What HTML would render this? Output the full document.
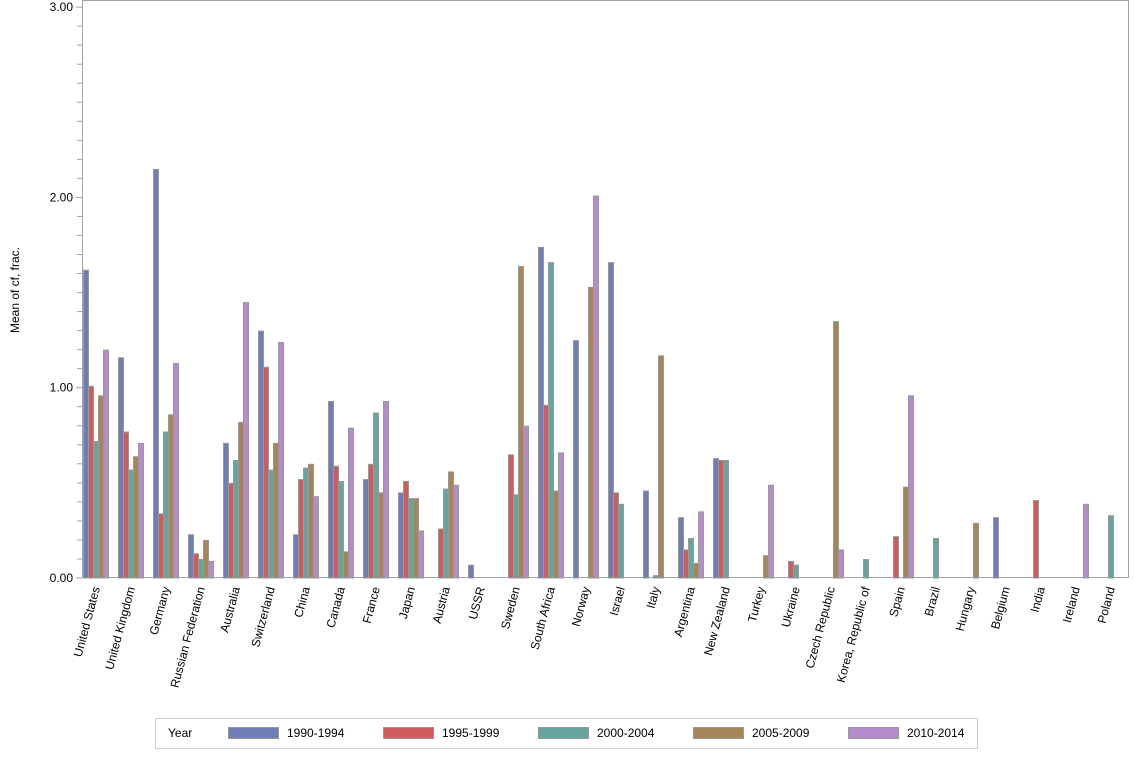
<!DOCTYPE html>
<html><head><meta charset="utf-8"><style>
body{margin:0;background:#fff;width:1134px;height:756px;overflow:hidden}
svg text{font-family:"Liberation Sans",Arial,sans-serif;fill:#000}
</style></head><body>
<svg id="s" width="1134" height="756" xmlns="http://www.w3.org/2000/svg">
<rect x="82.5" y="0.5" width="1046" height="577" fill="none" stroke="#a0a4a8"/>
<text x="0" y="0" font-size="12" transform="translate(19,290) rotate(-90)" text-anchor="middle">Mean of cf, frac.</text>
<rect x="155.5" y="718.5" width="822" height="30" fill="#fff" stroke="#ccc"/>
<text x="168" y="737" font-size="12">Year</text>
</svg>
<script>
var s=document.getElementById('s'),NS='http://www.w3.org/2000/svg';
function el(t,a,txt){var e=document.createElementNS(NS,t);for(var k in a)e.setAttribute(k,a[k]);if(txt!=null)e.textContent=txt;s.appendChild(e);return e;}
var y0=578,sc=190.3;
for(var i=0;i<=30;i++){var y=y0-i*sc/10;el('line',{x1:i%10?77:76,x2:82,y1:y,y2:y,stroke:'#a0a4a8'});}
['0.00','1.00','2.00','3.00'].forEach(function(t,i){el('text',{x:73,y:y0-i*sc+4,'font-size':12,'text-anchor':'end'},t);});
var C=['#6f7db6','#d05b5b','#66a59d','#a68559','#b58ccb'];
var D=[['United States',[1.62,1.01,0.72,0.96,1.20]],['United Kingdom',[1.16,0.77,0.57,0.64,0.71]],['Germany',[2.15,0.34,0.77,0.86,1.13]],['Russian Federation',[0.23,0.13,0.10,0.20,0.09]],['Australia',[0.71,0.50,0.62,0.82,1.45]],['Switzerland',[1.30,1.11,0.57,0.71,1.24]],['China',[0.23,0.52,0.58,0.60,0.43]],['Canada',[0.93,0.59,0.51,0.14,0.79]],['France',[0.52,0.60,0.87,0.45,0.93]],['Japan',[0.45,0.51,0.42,0.42,0.25]],['Austria',[0,0.26,0.47,0.56,0.49]],['USSR',[0.07,0,0,0,0]],['Sweden',[0,0.65,0.44,1.64,0.80]],['South Africa',[1.74,0.91,1.66,0.46,0.66]],['Norway',[1.25,0,0,1.53,2.01]],['Israel',[1.66,0.45,0.39,0,0]],['Italy',[0.46,0,0.015,1.17,0]],['Argentina',[0.32,0.15,0.21,0.08,0.35]],['New Zealand',[0.63,0.62,0.62,0,0]],['Turkey',[0,0,0,0.12,0.49]],['Ukraine',[0,0.09,0.07,0,0]],['Czech Republic',[0,0,0,1.35,0.15]],['Korea, Republic of',[0,0,0.10,0,0]],['Spain',[0,0.22,0,0.48,0.96]],['Brazil',[0,0,0.21,0,0]],['Hungary',[0,0,0,0.29,0]],['Belgium',[0.32,0,0,0,0]],['India',[0,0.41,0,0,0]],['Ireland',[0,0,0,0,0.39]],['Poland',[0,0,0.33,0,0]]];
D.forEach(function(d,g){var x0=83+35*g;
d[1].forEach(function(v,j){if(v>0){var h=v*sc;el('rect',{x:x0+5*j+0.5,y:y0-h+0.5,width:5,height:h-0.5,fill:C[j],stroke:'#999','stroke-width':1});}});
var cx=x0+13;
el('text',{x:0,y:0,'font-size':12,'text-anchor':'end',transform:'translate('+(cx+4)+',588) rotate(-75)'},d[0]);});
var L=['1990-1994','1995-1999','2000-2004','2005-2009','2010-2014'];
L.forEach(function(t,i){var x=228+155*i;el('rect',{x:x+0.5,y:727.5,width:50,height:11,fill:C[i],stroke:'#999'});el('text',{x:x+59,y:737,'font-size':12},t);});
</script>
</body></html>
